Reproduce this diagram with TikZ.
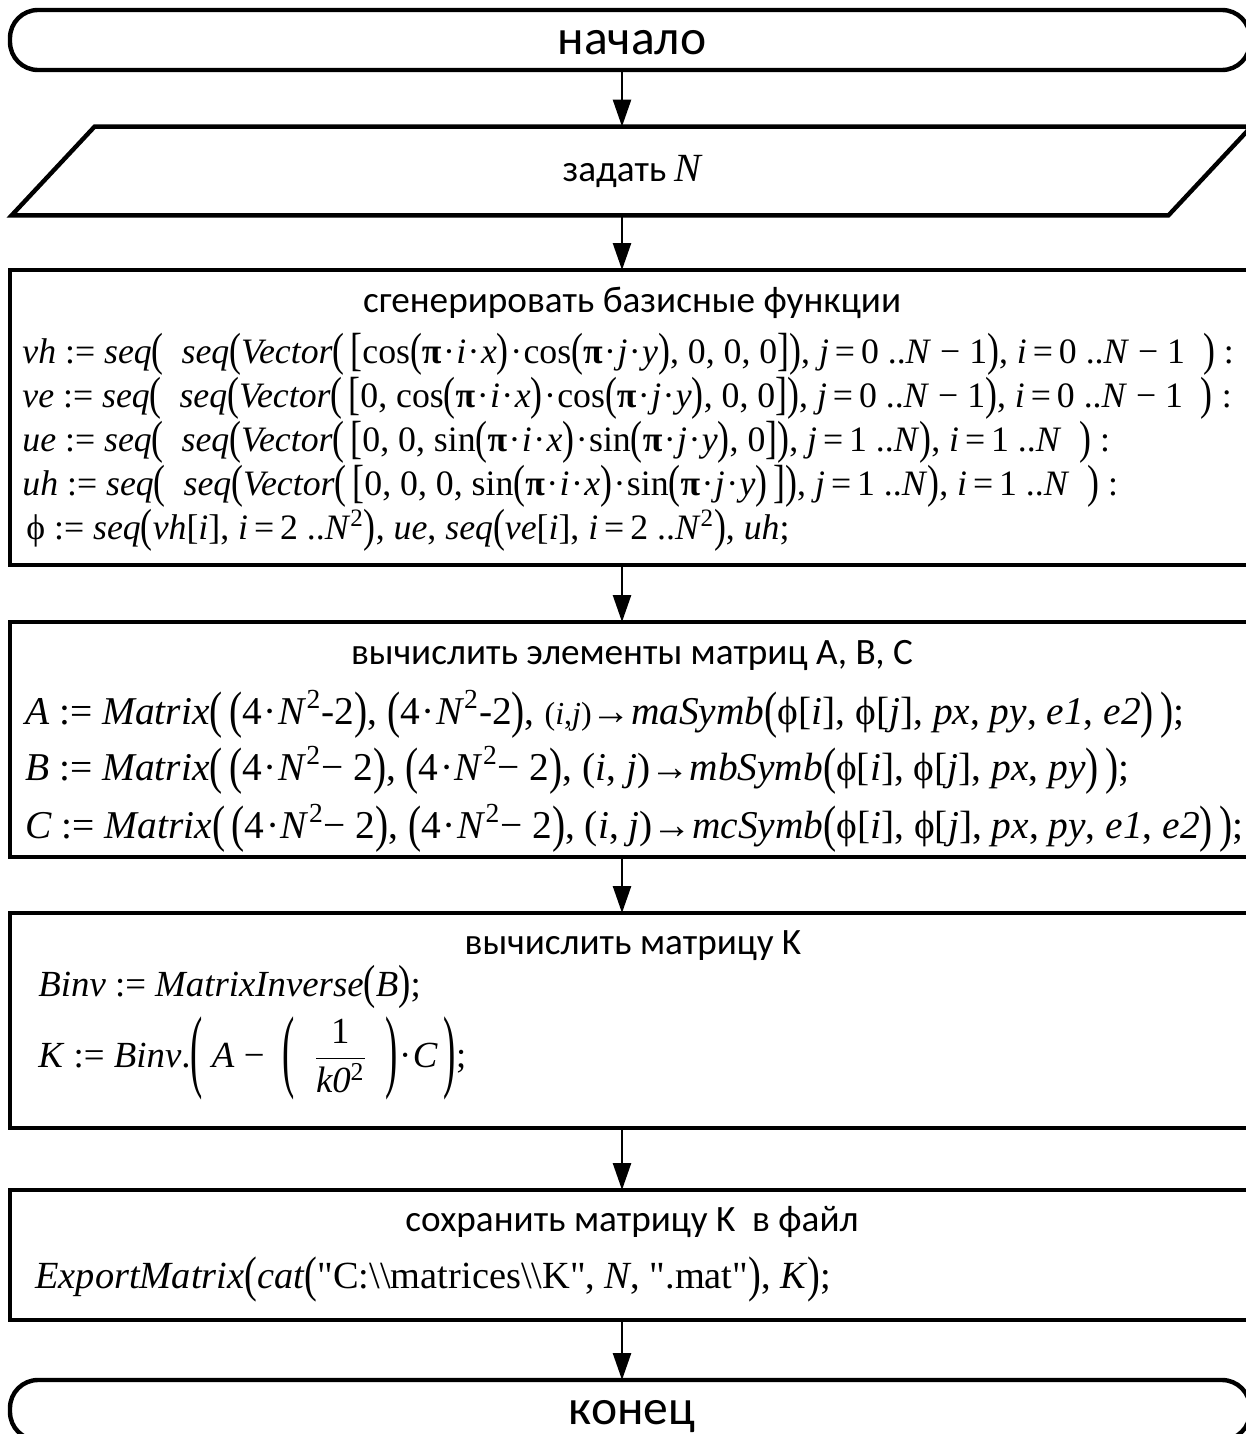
\documentclass[tikz,border=0pt]{standalone}
\usepackage{fontspec}
\usepackage{amsmath}
\usepackage{graphicx}
\newfontfamily\tnr{Liberation Serif}
\newfontfamily\cfont{Carlito}
\usetikzlibrary{calc,arrows.meta}
\newcommand\bp[1]{\raisebox{-0.08em}{\scalebox{1}[1.3]{#1}}}
\newcommand\hp[1]{\raisebox{-0.38em}{\scalebox{1}[2.5]{#1}}}
\newcommand\iv[1]{\textit{#1}}
\newcommand\cdt{\kern0.04em·\kern0.04em}
\newcommand\pib{\textbf{π}}
\newcommand\sq{\textsuperscript{2}}
\tikzset{
  flowbox/.style={draw, line width=2.2pt, rectangle, inner sep=0pt, outer sep=0pt},
  term/.style={flowbox, rounded corners=14pt, minimum width=620pt, minimum height=30pt},
  conn/.style={line width=1.3pt, -{Triangle[length=13.5pt,width=9pt]}},
  ttl/.style={inner sep=0pt, anchor=base, font=\cfont\fontsize{18.6}{21}\selectfont},
  big/.style={inner sep=0pt, anchor=base, font=\cfont\fontsize{24.8}{28}\selectfont},
  ml/.style={inner sep=0pt, anchor=base west, font=\tnr\fontsize{17.88}{21}\selectfont},
  mlb/.style={inner sep=0pt, anchor=base west, font=\tnr\fontsize{19.7}{22}\selectfont},
  mlc/.style={inner sep=0pt, anchor=base west, font=\tnr\fontsize{18.4}{21}\selectfont},
  mld/.style={inner sep=0pt, anchor=base west, font=\tnr\fontsize{19.2}{22}\selectfont},
}
\begin{document}
\begin{tikzpicture}[x=0.5pt, y=-0.5pt]
\useasboundingbox (0,0) rectangle (1246,1434);
\fill[white] (0,0) rectangle (1246,1434);
\clip (0,0) rectangle (1246,1434);
\coordinate (ax) at (622,0);
% shapes
\node[term] (start) at (630,40) {};
\node[draw=none, inner sep=0pt, minimum width=619.5pt, minimum height=44pt] (inp) at (631.5,171) {};
\draw[line width=2.2pt, line join=miter] (inp.south west) -- ($(inp.north west)+(83,0)$) -- (inp.north east) -- ($(inp.south east)+(-83,0)$) -- cycle;
\node[flowbox, minimum width=626pt, minimum height=147.5pt] (b1) at (636,417.5) {};
\node[flowbox, minimum width=626pt, minimum height=117.5pt] (b2) at (636,739.5) {};
\node[flowbox, minimum width=626pt, minimum height=107.5pt] (b3) at (636,1020.5) {};
\node[flowbox, minimum width=626pt, minimum height=65pt] (b4) at (636,1255) {};
\node[term] (stop) at (630,1410) {};
% connectors
\draw[conn] (start.south -| ax) -- (inp.north -| ax);
\draw[conn] (inp.south -| ax) -- (b1.north -| ax);
\draw[conn] (b1.south -| ax) -- (b2.north -| ax);
\draw[conn] (b2.south -| ax) -- (b3.north -| ax);
\draw[conn] (b3.south -| ax) -- (b4.north -| ax);
\draw[conn] (b4.south -| ax) -- (stop.north -| ax);
% texts
\node[big] (tstart) at (632,55) {начало};
\node[ttl] (tinp) at (632,181) {задать {\tnr\itshape\fontsize{20}{21}\selectfont N}};
\node[big] (tstop) at (632,1424) {конец};
\node[ttl] (t1) at (632,312) {сгенерировать базисные функции};
\node[ml] (r1) at (22,363) {\iv{vh} := \iv{seq}\bp{(}\ \ \iv{seq}\bp{(}\iv{Vector}\bp{(}\,\bp{[}cos\bp{(}\pib\cdt\iv{i}\cdt\iv{x}\bp{)}\cdt cos\bp{(}\pib\cdt\iv{j}\cdt\iv{y}\bp{)}, 0, 0, 0\bp{]}\bp{)}, \iv{j}\,=\,0 ..\iv{N} − 1\bp{)}, \iv{i}\,=\,0 ..\iv{N} − 1\ \ \bp{)} :};
\node[ml] (r2) at (22,407) {\iv{ve} := \iv{seq}\bp{(}\ \ \iv{seq}\bp{(}\iv{Vector}\bp{(}\,\bp{[}0, cos\bp{(}\pib\cdt\iv{i}\cdt\iv{x}\bp{)}\cdt cos\bp{(}\pib\cdt\iv{j}\cdt\iv{y}\bp{)}, 0, 0\bp{]}\bp{)}, \iv{j}\,=\,0 ..\iv{N} − 1\bp{)}, \iv{i}\,=\,0 ..\iv{N} − 1\ \ \bp{)} :};
\node[ml] (r3) at (22,451) {\iv{ue} := \iv{seq}\bp{(}\ \ \iv{seq}\bp{(}\iv{Vector}\bp{(}\,\bp{[}0, 0, sin\bp{(}\pib\cdt\iv{i}\cdt\iv{x}\bp{)}\cdt sin\bp{(}\pib\cdt\iv{j}\cdt\iv{y}\bp{)}, 0\bp{]}\bp{)}, \iv{j}\,=\,1 ..\iv{N}\bp{)}, \iv{i}\,=\,1 ..\iv{N}\ \ \bp{)} :};
\node[ml] (r4) at (22,495) {\iv{uh} := \iv{seq}\bp{(}\ \ \iv{seq}\bp{(}\iv{Vector}\bp{(}\,\bp{[}0, 0, 0, sin\bp{(}\pib\cdt\iv{i}\cdt\iv{x}\bp{)}\cdt sin\bp{(}\pib\cdt\iv{j}\cdt\iv{y}\bp{)}\,\bp{]}\bp{)}, \iv{j}\,=\,1 ..\iv{N}\bp{)}, \iv{i}\,=\,1 ..\iv{N}\ \ \bp{)} :};
\node[ml] (r5) at (26,539) {ϕ := \iv{seq}\bp{(}\iv{vh}[\iv{i}], \iv{i}\,=\,2 ..\iv{N}\sq\bp{)}, \iv{ue}, \iv{seq}\bp{(}\iv{ve}[\iv{i}], \iv{i}\,=\,2 ..\iv{N}\sq\bp{)}, \iv{uh};};
\node[ttl] (t2) at (632,664) {вычислить элементы матриц A, B, C};
\node[mlb] (ra) at (25,724) {\iv{A} := \iv{Matrix}\bp{(}\,\bp{(}4\cdt\iv{N}\sq-2\bp{)}, \bp{(}4\cdt\iv{N}\sq-2\bp{)}, {\fontsize{16}{18}\selectfont(\iv{i},\iv{j})}→\iv{maSymb}\bp{(}ϕ[\iv{i}], ϕ[\iv{j}], \iv{px}, \iv{py}, \iv{e1}, \iv{e2}\bp{)}\,\bp{)};};
\node[mlb] (rb) at (25,780) {\iv{B} := \iv{Matrix}\bp{(}\,\bp{(}4\cdt\iv{N}\sq − 2\bp{)}, \bp{(}4\cdt\iv{N}\sq − 2\bp{)}, (\iv{i}, \iv{j})→\iv{mbSymb}\bp{(}ϕ[\iv{i}], ϕ[\iv{j}], \iv{px}, \iv{py}\bp{)}\,\bp{)};};
\node[mlb] (rc) at (25,838) {\iv{C} := \iv{Matrix}\bp{(}\,\bp{(}4\cdt\iv{N}\sq − 2\bp{)}, \bp{(}4\cdt\iv{N}\sq − 2\bp{)}, (\iv{i}, \iv{j})→\iv{mcSymb}\bp{(}ϕ[\iv{i}], ϕ[\iv{j}], \iv{px}, \iv{py}, \iv{e1}, \iv{e2}\bp{)}\,\bp{)};};
\node[ttl] (t3) at (633,954) {вычислить матрицу K};
\node[mlc] (rbinv) at (38,996) {\iv{Binv} := \iv{MatrixInverse}\bp{(}\iv{B}\bp{)};};
\node[mlc] (rk) at (38,1067) {\iv{K} := \iv{Binv}.\hp{(}\ \iv{A} − \ \hp{(}\ \ $\dfrac{\text{1}}{\text{\iv{k0}\sq}}$\ \ \hp{)}\cdt\iv{C}\,\hp{)};};
\node[ttl] (t4) at (632,1231) {сохранить матрицу K\ \ в файл};
\node[mld] (rexp) at (35,1288) {\iv{ExportMatrix}\bp{(}\iv{cat}\bp{(}"C:\textbackslash\textbackslash matrices\textbackslash\textbackslash K", \iv{N}, ".mat"\bp{)}, \iv{K}\bp{)};};
\end{tikzpicture}
\end{document}
